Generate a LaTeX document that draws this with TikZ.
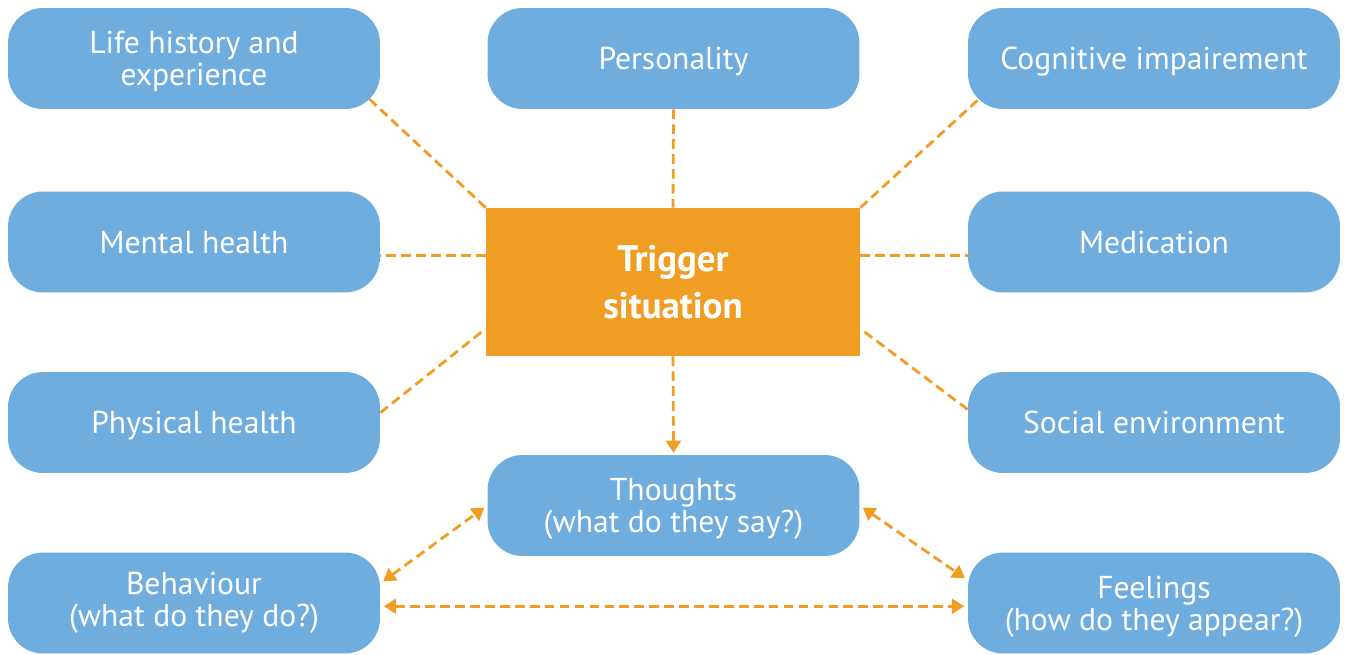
\documentclass[tikz,border=0pt]{standalone}
\usepackage{fontspec}
\setmainfont{PT Sans}
\usetikzlibrary{calc}
\usetikzlibrary{arrows.meta}
\usetikzlibrary{backgrounds}
\definecolor{boxblue}{RGB}{111,173,222}
\definecolor{trigorange}{RGB}{240,158,35}
\begin{document}
\begin{tikzpicture} [x=0.02cm, y=-0.02cm,
 factor/.style={fill=boxblue, rounded corners=0.7cm, minimum width=7.44cm, minimum height=2.02cm, inner sep=0, text depth=0pt, text=white, align=center, font=\fontsize{18}{18.2}\selectfont},
 trigger/.style={fill=trigorange, minimum width=7.48cm, minimum height=2.96cm, inner sep=0, text=white, align=center, font=\fontsize{21}{27}\selectfont\bfseries},
 link/.style={trigorange, line width=1.6pt, dash pattern=on 5.5pt off 3pt},
 onetip/.style={-{Triangle[length=7pt,width=8.5pt]}, shorten >=1pt},
 twotips/.style={{Triangle[length=7pt,width=8.5pt]}-{Triangle[length=7pt,width=8.5pt]}, shorten <=2pt, shorten >=2pt}]
\useasboundingbox (0,0) rectangle (1349,655);
\node[factor] (life) at (194,58.5) {Life history and\\experience};
\node[factor] (pers) at (673.5,58.5) {Personality};
\node[factor] (cogn) at (1154,58.5) {Cognitive impairement};
\node[factor] (mental) at (194,242) {Mental health};
\node[factor] (medic) at (1154,242) {Medication};
\node[factor] (phys) at (194,422.5) {Physical health};
\node[factor] (social) at (1154,422.5) {Social environment};
\node[trigger] (trig) at (673,282) {Trigger\\situation};
\node[factor] (thoughts) at (673.5,505.5) {Thoughts\\(what do they say?)};
\node[factor, text depth=4pt] (behav) at (194,603) {Behaviour\\(what do they do?)};
\node[factor] (feel) at (1154,603) {Feelings\\(how do they appear?)};
\begin{scope}[on background layer]
\draw[link] (trig.north west) -- ($(trig.north west)!1.2!(life.south east)$);
\draw[link] (trig.north east) -- ($(trig.north east)!1.2!(cogn.south west)$);
\end{scope}
\foreach \a/\b in {pers.south/trig.north, phys.3.8/trig.194.4, social.176.2/trig.-14.4} {
 \draw[link] (\a) -- (\b);
}
\draw[link] (trig.172.1) -- (trig.172.1 -| mental.east);
\draw[link] (trig.172.1 -| trig.east) -- (trig.172.1 -| medic.west);
\draw[link, onetip] (trig.south) -- (thoughts.north);
\draw[link, twotips] (behav.6.4) -- (thoughts.west);
\draw[link, twotips] (thoughts.east) -- (feel.173.6);
\draw[link, twotips] (behav.-1.5) -- (behav.-1.5 -| feel.west);
\end{tikzpicture}
\end{document}
